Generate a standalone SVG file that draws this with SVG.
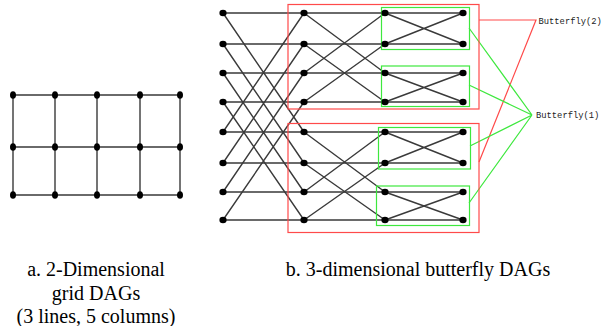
<svg xmlns="http://www.w3.org/2000/svg" width="602" height="326" viewBox="0 0 602 326">
<style>
.e{stroke:#3a3a3a;stroke-width:1.4;fill:none}
.gn{fill:#000}
.red{stroke:#ff4a4a;stroke-width:1.2;fill:none}
.grn{stroke:#3ee83e;stroke-width:1.2;fill:none}
.lab{font-family:"Liberation Mono",monospace;font-size:8.8px;fill:#222}
.cap{font-family:"Liberation Serif","Times New Roman",serif;font-size:20px;fill:#000;text-anchor:middle}
</style>
<rect width="602" height="326" fill="#fff"/>
<g id="connectors">
<!-- grid -->
<path class="e" d="M13 95H180M13 147H180M13 195H180M13 95V195M55 95V195M97 95V195M140 95V195M180 95V195"/>
<!-- butterfly horizontals -->
<path class="e" d="M223 13H463M223 44H463M223 73H463M223 102H463M223 132H463M223 163H463M223 192H463M223 220H463"/>
<!-- stage 1 (xor 4) -->
<path class="e" d="M223 13L304 132M223 44L304 163M223 73L304 192M223 102L304 220M223 132L304 13M223 163L304 44M223 192L304 73M223 220L304 102"/>
<!-- stage 2 (xor 2) -->
<path class="e" d="M304 13L385 73M304 44L385 102M304 73L385 13M304 102L385 44M304 132L385 192M304 163L385 220M304 192L385 132M304 220L385 163"/>
<!-- stage 3 (xor 1) -->
<path class="e" d="M385 13L463 44M385 44L463 13M385 73L463 102M385 102L463 73M385 132L463 163M385 163L463 132M385 192L463 220M385 220L463 192"/>
<!-- label leaders -->
<path class="red" d="M479 20H536L479 162"/>
<path class="grn" d="M469 28L532 115M469 85L532 115M470 146L532 115M469 203L532 115"/>
</g>
<g id="boxes">
<rect id="bf2-top" class="red" x="288" y="4.5" width="191" height="104.5"/>
<rect id="bf2-bot" class="red" x="288" y="123.5" width="191" height="109"/>
<rect id="bf1-a" class="grn" x="381.5" y="7.5" width="88" height="42"/>
<rect id="bf1-b" class="grn" x="381.5" y="66" width="88" height="40.5"/>
<rect id="bf1-c" class="grn" x="378.5" y="127.5" width="92" height="41.5"/>
<rect id="bf1-d" class="grn" x="376.5" y="186" width="93" height="39.5"/>
</g>
<g id="grid-nodes">
<g id="g00"><ellipse class="gn" cx="13" cy="95" rx="3" ry="3.8"/></g>
<g id="g01"><ellipse class="gn" cx="55" cy="95" rx="3" ry="3.8"/></g>
<g id="g02"><ellipse class="gn" cx="97" cy="95" rx="3" ry="3.8"/></g>
<g id="g03"><ellipse class="gn" cx="140" cy="95" rx="3" ry="3.8"/></g>
<g id="g04"><ellipse class="gn" cx="180" cy="95" rx="3" ry="3.8"/></g>
<g id="g10"><ellipse class="gn" cx="13" cy="147" rx="3" ry="3.8"/></g>
<g id="g11"><ellipse class="gn" cx="55" cy="147" rx="3" ry="3.8"/></g>
<g id="g12"><ellipse class="gn" cx="97" cy="147" rx="3" ry="3.8"/></g>
<g id="g13"><ellipse class="gn" cx="140" cy="147" rx="3" ry="3.8"/></g>
<g id="g14"><ellipse class="gn" cx="180" cy="147" rx="3" ry="3.8"/></g>
<g id="g20"><ellipse class="gn" cx="13" cy="195" rx="3" ry="3.8"/></g>
<g id="g21"><ellipse class="gn" cx="55" cy="195" rx="3" ry="3.8"/></g>
<g id="g22"><ellipse class="gn" cx="97" cy="195" rx="3" ry="3.8"/></g>
<g id="g23"><ellipse class="gn" cx="140" cy="195" rx="3" ry="3.8"/></g>
<g id="g24"><ellipse class="gn" cx="180" cy="195" rx="3" ry="3.8"/></g>
</g>
<g id="butterfly-nodes">
<g id="b0_0"><ellipse class="gn" cx="223" cy="13" rx="3.6" ry="3.2"/></g>
<g id="b0_1"><ellipse class="gn" cx="223" cy="44" rx="3.6" ry="3.2"/></g>
<g id="b0_2"><ellipse class="gn" cx="223" cy="73" rx="3.6" ry="3.2"/></g>
<g id="b0_3"><ellipse class="gn" cx="223" cy="102" rx="3.6" ry="3.2"/></g>
<g id="b0_4"><ellipse class="gn" cx="223" cy="132" rx="3.6" ry="3.2"/></g>
<g id="b0_5"><ellipse class="gn" cx="223" cy="163" rx="3.6" ry="3.2"/></g>
<g id="b0_6"><ellipse class="gn" cx="223" cy="192" rx="3.6" ry="3.2"/></g>
<g id="b0_7"><ellipse class="gn" cx="223" cy="220" rx="3.6" ry="3.2"/></g>
<g id="b1_0"><ellipse class="gn" cx="304" cy="13" rx="3.6" ry="3.2"/></g>
<g id="b1_1"><ellipse class="gn" cx="304" cy="44" rx="3.6" ry="3.2"/></g>
<g id="b1_2"><ellipse class="gn" cx="304" cy="73" rx="3.6" ry="3.2"/></g>
<g id="b1_3"><ellipse class="gn" cx="304" cy="102" rx="3.6" ry="3.2"/></g>
<g id="b1_4"><ellipse class="gn" cx="304" cy="132" rx="3.6" ry="3.2"/></g>
<g id="b1_5"><ellipse class="gn" cx="304" cy="163" rx="3.6" ry="3.2"/></g>
<g id="b1_6"><ellipse class="gn" cx="304" cy="192" rx="3.6" ry="3.2"/></g>
<g id="b1_7"><ellipse class="gn" cx="304" cy="220" rx="3.6" ry="3.2"/></g>
<g id="b2_0"><ellipse class="gn" cx="385" cy="13" rx="3.6" ry="3.2"/></g>
<g id="b2_1"><ellipse class="gn" cx="385" cy="44" rx="3.6" ry="3.2"/></g>
<g id="b2_2"><ellipse class="gn" cx="385" cy="73" rx="3.6" ry="3.2"/></g>
<g id="b2_3"><ellipse class="gn" cx="385" cy="102" rx="3.6" ry="3.2"/></g>
<g id="b2_4"><ellipse class="gn" cx="385" cy="132" rx="3.6" ry="3.2"/></g>
<g id="b2_5"><ellipse class="gn" cx="385" cy="163" rx="3.6" ry="3.2"/></g>
<g id="b2_6"><ellipse class="gn" cx="385" cy="192" rx="3.6" ry="3.2"/></g>
<g id="b2_7"><ellipse class="gn" cx="385" cy="220" rx="3.6" ry="3.2"/></g>
<g id="b3_0"><ellipse class="gn" cx="463" cy="13" rx="3.6" ry="3.2"/></g>
<g id="b3_1"><ellipse class="gn" cx="463" cy="44" rx="3.6" ry="3.2"/></g>
<g id="b3_2"><ellipse class="gn" cx="463" cy="73" rx="3.6" ry="3.2"/></g>
<g id="b3_3"><ellipse class="gn" cx="463" cy="102" rx="3.6" ry="3.2"/></g>
<g id="b3_4"><ellipse class="gn" cx="463" cy="132" rx="3.6" ry="3.2"/></g>
<g id="b3_5"><ellipse class="gn" cx="463" cy="163" rx="3.6" ry="3.2"/></g>
<g id="b3_6"><ellipse class="gn" cx="463" cy="192" rx="3.6" ry="3.2"/></g>
<g id="b3_7"><ellipse class="gn" cx="463" cy="220" rx="3.6" ry="3.2"/></g>
</g>
<g id="label-bf2"><text class="lab" x="538.5" y="23.5">Butterfly(2)</text></g>
<g id="label-bf1"><text class="lab" x="536" y="118">Butterfly(1)</text></g>
<g id="caption-a">
<text class="cap" x="96" y="276">a. 2-Dimensional</text>
<text class="cap" x="96" y="300">grid DAGs</text>
<text class="cap" x="96" y="323">(3 lines, 5 columns)</text>
</g>
<g id="caption-b"><text class="cap" x="418" y="276">b. 3-dimensional butterfly DAGs</text></g>
</svg>
